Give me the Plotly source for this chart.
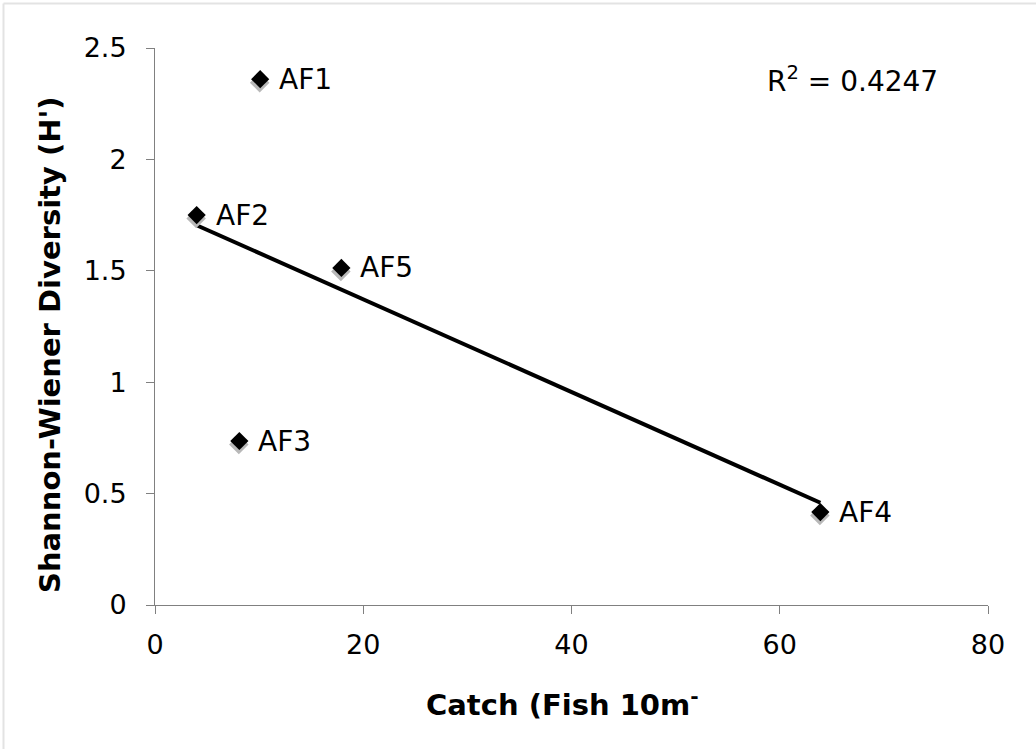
import numpy as np
import plotly.graph_objects as go

# Sites, catch per unit effort and Shannon-Wiener diversity
sites = ["AF1", "AF2", "AF3", "AF4", "AF5"]
catch = [10.1, 4.0, 8.1, 63.9, 17.9]
diversity = [2.36, 1.75, 0.736, 0.417, 1.513]
r_squared_label = "0.4247"

x_ticks = [0, 20, 40, 60, 80]
y_ticks = [0, 0.5, 1, 1.5, 2, 2.5]
y_tick_text = ["0", "0.5", "1", "1.5", "2", "2.5"]

W, H = 1036, 749
margin = dict(l=155, r=48, t=48, b=144)
x_range = [0, 80]
y_range = [0, 2.5]

# data units per pixel, used to offset the drop shadow of the markers
plot_w = W - margin["l"] - margin["r"]
plot_h = H - margin["t"] - margin["b"]
dx_px = (x_range[1] - x_range[0]) / plot_w
dy_px = (y_range[1] - y_range[0]) / plot_h

# least-squares trend line
slope, intercept = np.polyfit(catch, diversity, 1)
trend_x = [min(catch), max(catch)]
trend_y = [slope * v + intercept for v in trend_x]

font_family = "DejaVu Sans, Verdana, sans-serif"
text_size = 28
title_size = 29
tick_size = 27

fig = go.Figure()

fig.add_trace(go.Scatter(
    x=trend_x, y=trend_y, mode="lines",
    line=dict(color="black", width=4), hoverinfo="skip", showlegend=False,
))

fig.add_trace(go.Scatter(
    x=[v - 0.5 * dx_px for v in catch], y=[v - 3.5 * dy_px for v in diversity],
    mode="markers",
    marker=dict(symbol="diamond", size=15, color="#b8b8b8"),
    hoverinfo="skip", showlegend=False,
))

fig.add_trace(go.Scatter(
    x=catch, y=diversity, mode="markers",
    marker=dict(symbol="diamond", size=14, color="black"),
    showlegend=False,
))

annotations = [
    dict(text=s, x=cx, y=cy, xref="x", yref="y", showarrow=False,
         xanchor="left", yanchor="middle", xshift=17,
         font=dict(size=text_size))
    for s, cx, cy in zip(sites, catch, diversity)
]

annotations += [
    dict(text="R<sup>2</sup> = " + r_squared_label, xref="paper", yref="paper",
         x=(852 - margin["l"]) / plot_w, y=(H - margin["b"] - 80) / plot_h,
         showarrow=False, xanchor="center", yanchor="middle",
         font=dict(size=text_size)),
    dict(text="<b>Catch (Fish 10m<sup>-</sup></b>", xref="paper", yref="paper",
         x=(562 - margin["l"]) / plot_w, y=-(703 - (H - margin["b"])) / plot_h,
         showarrow=False, xanchor="center", yanchor="middle",
         font=dict(size=title_size)),
    dict(text="<b>Shannon-Wiener Diversity (H')</b>", xref="paper", yref="paper",
         x=-(155 - 50) / plot_w, y=(H - margin["b"] - 345) / plot_h,
         showarrow=False, xanchor="center", yanchor="middle", textangle=-90,
         font=dict(size=title_size)),
]

fig.update_layout(
    width=W, height=H,
    margin=margin,
    paper_bgcolor="white", plot_bgcolor="white",
    font=dict(family=font_family, size=text_size, color="black"),
    xaxis=dict(
        range=x_range, tickvals=x_ticks, ticks="outside", ticklen=8,
        tickcolor="#808080", showline=True, linecolor="#808080", linewidth=1,
        showgrid=False, zeroline=False,
        tickfont=dict(size=tick_size), ticklabelstandoff=8,
    ),
    yaxis=dict(
        range=y_range, tickvals=y_ticks, ticktext=y_tick_text,
        ticks="outside", ticklen=8,
        tickcolor="#808080", showline=True, linecolor="#808080", linewidth=1,
        showgrid=False, zeroline=False,
        tickfont=dict(size=tick_size), ticklabelstandoff=14,
    ),
    annotations=annotations,
    shapes=[
        dict(type="line", xref="paper", yref="paper",
             x0=-(155 - 3.5) / plot_w, x1=(W - margin["l"]) / plot_w,
             y0=(H - margin["b"] - 3.5) / plot_h, y1=(H - margin["b"] - 3.5) / plot_h,
             line=dict(color="#e3e3e3", width=2)),
        dict(type="line", xref="paper", yref="paper",
             x0=-(155 - 3.5) / plot_w, x1=-(155 - 3.5) / plot_w,
             y0=(H - margin["b"] - 3.5) / plot_h, y1=-(margin["b"]) / plot_h,
             line=dict(color="#e3e3e3", width=2)),
    ],
)

fig.write_html("out.html")
